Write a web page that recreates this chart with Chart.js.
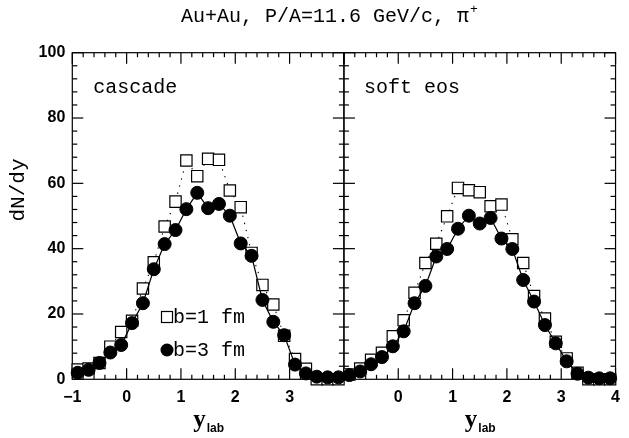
<!DOCTYPE html>
<html>
<head>
<meta charset="utf-8">
<script src="https://cdn.jsdelivr.net/npm/chart.js@4/dist/chart.umd.min.js"></script>
<style>
  html, body { margin: 0; padding: 0; background: #fff; }
  #wrap { position: relative; width: 629px; height: 438px; }
  canvas { display: block; }
</style>
</head>
<body>
<div id="wrap"><canvas id="c" width="629" height="438"></canvas></div>
<script>
// ---- data ----
const titleText = 'Au+Au, P/A=11.6 GeV/c, \u03c0';
const titleSup = '+';
const panelNames = ['cascade', 'soft eos'];
const seriesNames = ['b=1 fm', 'b=3 fm'];
const yAxisTitle = 'dN/dy';
const xAxisTitleMain = 'y';
const xAxisTitleSub = 'lab';

// rapidity bin centres (y_lab)
const yLab = [-0.9, -0.7, -0.5, -0.3, -0.1, 0.1, 0.3, 0.5, 0.7, 0.9, 1.1, 1.3, 1.5,
              1.7, 1.9, 2.1, 2.3, 2.5, 2.7, 2.9, 3.1, 3.3, 3.5, 3.7, 3.9];

// cascade panel
const cascadeB1 = [3.0, 3.3, 5.0, 10.0, 14.5, 17.9, 27.8, 35.8, 46.8, 54.4, 67.0, 62.2, 67.5,
                   67.2, 57.8, 52.7, 38.7, 28.9, 22.9, 13.3, 6.2, 3.2, 0, 0, 0];
const cascadeB3 = [2.0, 2.9, 5.0, 8.2, 10.5, 17.2, 23.3, 33.7, 41.4, 45.7, 52.1, 57.1, 52.4,
                   53.7, 50.1, 41.6, 37.8, 24.3, 17.6, 13.5, 4.5, 1.8, 0.8, 0.6, 0.6];
// soft eos panel
const softB1 = [1.5, 3.3, 6.0, 8.1, 13.2, 18.1, 26.5, 35.6, 41.5, 49.9, 58.6, 57.9, 57.3,
                53.0, 53.5, 42.9, 35.6, 25.5, 18.6, 11.5, 6.4, 2.0, 0, 0, 0];
const softB3 = [1.3, 2.4, 4.6, 6.8, 10.1, 14.7, 23.3, 28.6, 37.6, 39.9, 46.1, 50.1, 47.7,
                49.4, 43.1, 39.9, 30.4, 23.8, 16.6, 11.0, 5.5, 1.7, 0.5, 0.3, 0.3];

// axis ranges / tick labels
const xMin = -1, xMax = 4, xStep = 0.2;
const xLabelsLeft = [-1, 0, 1, 2, 3];
const xLabelsRight = [0, 1, 2, 3, 4];
const yMin = 0, yMax = 100, yStep = 4, yLabelEvery = 20;

// ---- build chart ----
const pts = (ys) => yLab.map((x, i) => ({ x: x, y: ys[i] }));
const fmt = (v) => (v < 0 ? '\u2212' + Math.abs(v) : String(v));
const xTickCb = (labels) => (v) => {
  const r = Math.round(v);
  return (Math.abs(v - r) < 1e-6 && labels.includes(r)) ? fmt(r) : '';
};

const circleDs = (ys, axis) => ({
  data: pts(ys), xAxisID: axis, yAxisID: 'y', clip: false,
  borderColor: '#000', borderWidth: 1.2, tension: 0,
  pointStyle: 'circle', pointRadius: 6.5, pointBackgroundColor: '#000',
  pointBorderColor: '#000', pointBorderWidth: 1
});
const squareDs = (ys, axis) => ({
  data: pts(ys), xAxisID: axis, yAxisID: 'y', clip: false,
  borderColor: '#000', borderWidth: 1.1, borderDash: [1.3, 6], tension: 0,
  pointStyle: 'rect', pointRadius: 8, pointBackgroundColor: '#fff',
  pointBorderColor: '#000', pointBorderWidth: 1.2
});

const tickFont = { family: 'Liberation Sans', size: 16, weight: 'bold' };
const xScale = (labels) => ({
  type: 'linear', position: 'bottom', stack: 'x', stackWeight: 1,
  min: xMin, max: xMax,
  grid: { display: false, drawTicks: false }, border: { display: false },
  ticks: { stepSize: xStep, autoSkip: false, minRotation: 0, maxRotation: 0,
           padding: 9, color: '#000', font: tickFont, callback: xTickCb(labels) },
  afterFit: (s) => { s.height = 58.7; }
});

const line = (ctx, x1, y1, x2, y2) => { ctx.beginPath(); ctx.moveTo(x1, y1); ctx.lineTo(x2, y2); ctx.stroke(); };

const decor = {
  id: 'decor',
  beforeDatasetsDraw(chart) {
    const { ctx, chartArea: a, scales } = chart;
    const ys = scales.y;
    ctx.save();
    ctx.strokeStyle = '#000';
    ctx.lineWidth = 1.2;
    for (const sx of [scales.x1, scales.x2]) {
      ctx.strokeRect(sx.left, a.top, sx.right - sx.left, a.bottom - a.top);
      for (const t of sx.ticks) {
        const px = sx.getPixelForValue(t.value);
        const major = Math.abs(t.value - Math.round(t.value)) < 1e-6;
        const len = major ? 11 : 4.5;
        line(ctx, px, a.bottom, px, a.bottom - len);
        line(ctx, px, a.top, px, a.top + len);
      }
      for (const t of ys.ticks) {
        const py = ys.getPixelForValue(t.value);
        const len = (Math.round(t.value) % yLabelEvery === 0) ? 11 : 5;
        line(ctx, sx.left, py, sx.left + len, py);
        line(ctx, sx.right, py, sx.right - len, py);
      }
    }
    ctx.restore();
  },
  afterDraw(chart) {
    const { ctx, chartArea: a, scales } = chart;
    const x1 = scales.x1, x2 = scales.x2;
    ctx.save();
    ctx.fillStyle = '#000';
    const mono = (s) => s + 'px "Liberation Mono", monospace';
    // title
    ctx.font = mono(20);
    ctx.textBaseline = 'alphabetic';
    const tw = ctx.measureText(titleText).width;
    ctx.font = mono(13);
    const sw = ctx.measureText(titleSup).width;
    const tx = 329 - (tw + sw) / 2;
    ctx.font = mono(20);
    ctx.textAlign = 'left';
    ctx.fillText(titleText, tx, 22);
    ctx.font = mono(13);
    ctx.fillText(titleSup, tx + tw + 1, 13);
    // panel labels
    ctx.font = mono(20);
    ctx.fillText(panelNames[0], x1.left + 21, a.top + 40);
    ctx.fillText(panelNames[1], x2.left + 20, a.top + 40);
    // legend
    const lx = 167, ly1 = 317, ly2 = 350;
    ctx.lineWidth = 1.2;
    ctx.strokeStyle = '#000';
    ctx.fillStyle = '#fff';
    ctx.fillRect(lx - 5.5, ly1 - 5.5, 11, 11);
    ctx.strokeRect(lx - 5.5, ly1 - 5.5, 11, 11);
    ctx.fillStyle = '#000';
    ctx.beginPath(); ctx.arc(lx, ly2, 6.5, 0, Math.PI * 2); ctx.fill();
    ctx.fillText(seriesNames[0], lx + 6, ly1 + 6);
    ctx.fillText(seriesNames[1], lx + 6, ly2 + 6);
    // y axis title
    ctx.save();
    ctx.translate(24, 190);
    ctx.rotate(-Math.PI / 2);
    ctx.textAlign = 'center';
    ctx.font = mono(21);
    ctx.fillText(yAxisTitle, 0, 0);
    ctx.restore();
    // x axis titles
    for (const sx of [x1, x2]) {
      const cx = (sx.left + sx.right) / 2;
      ctx.font = 'bold 25px "Liberation Serif", serif';
      const w1 = ctx.measureText(xAxisTitleMain).width;
      ctx.font = 'bold 12px "Liberation Sans", sans-serif';
      const w2 = ctx.measureText(xAxisTitleSub).width;
      const sx0 = cx - (w1 + w2) / 2;
      ctx.font = 'bold 25px "Liberation Serif", serif';
      ctx.textAlign = 'left';
      ctx.fillText(xAxisTitleMain, sx0, 427);
      ctx.font = 'bold 12px "Liberation Sans", sans-serif';
      ctx.fillText(xAxisTitleSub, sx0 + w1 + 1, 432);
    }
    ctx.restore();
  }
};

new Chart(document.getElementById('c'), {
  type: 'line',
  data: {
    datasets: [
      circleDs(cascadeB3, 'x1'),
      circleDs(softB3, 'x2'),
      squareDs(cascadeB1, 'x1'),
      squareDs(softB1, 'x2')
    ]
  },
  options: {
    responsive: false,
    animation: false,
    layout: { padding: { top: 52.7, right: 2.5, left: 0, bottom: 0 } },
    plugins: { legend: { display: false }, tooltip: { enabled: false }, title: { display: false } },
    scales: {
      y: {
        type: 'linear', position: 'left', min: yMin, max: yMax,
        grid: { display: false, drawTicks: false }, border: { display: false },
        ticks: { stepSize: yStep, autoSkip: false, padding: 7, color: '#000', font: tickFont,
                 callback: (v) => (Math.round(v) % yLabelEvery === 0 ? String(v) : '') },
        afterFit: (s) => { s.width = 72.3; }
      },
      x1: xScale(xLabelsLeft),
      x2: xScale(xLabelsRight)
    }
  },
  plugins: [decor]
});
</script>
</body>
</html>
